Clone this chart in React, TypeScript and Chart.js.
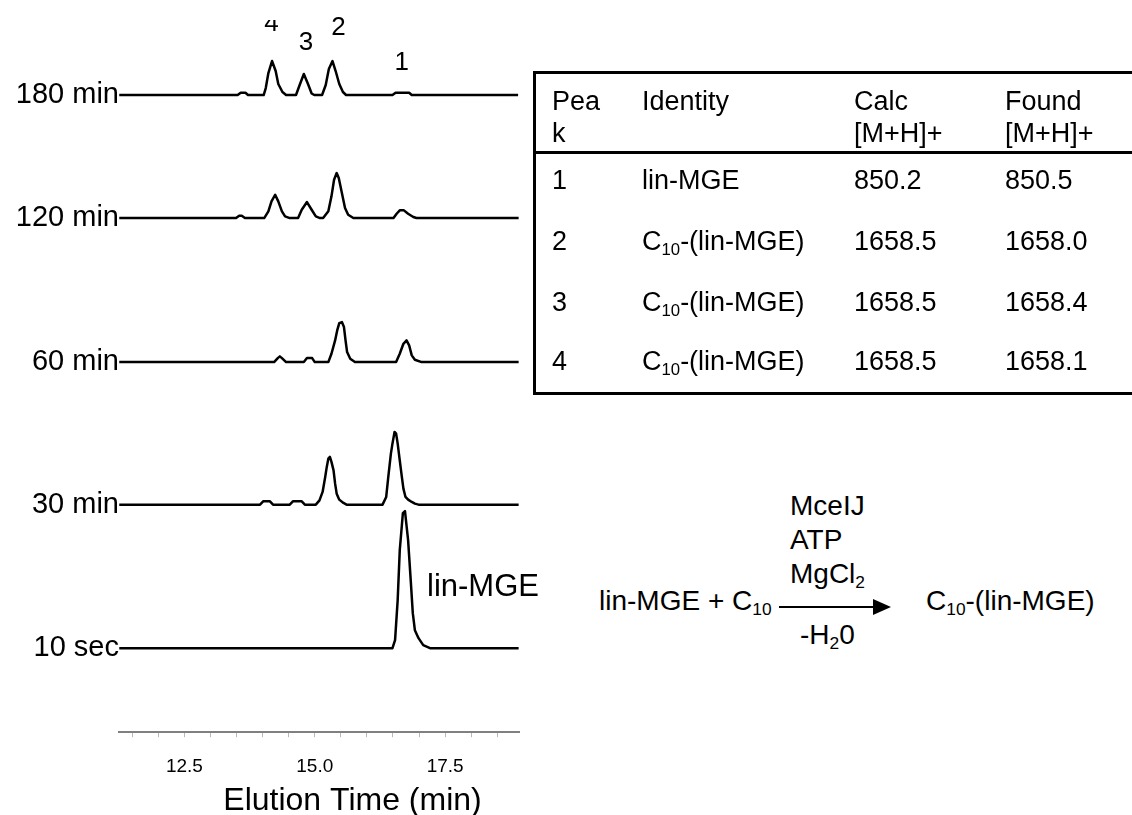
import React, { useEffect, useRef } from "react";
import { Chart, registerables } from "chart.js";

Chart.register(...registerables);

const FONT = '"Liberation Sans", Arial, Helvetica, sans-serif';

// ---------- chromatogram data (time in min, intensity above each trace's baseline) ----------
const traceLabels = ["10 sec", "30 min", "60 min", "120 min", "180 min"];
const traceOffsets = [84, 227.5, 370, 514, 637];

const trace10sec: number[][] = [
  [11.25, 0], [16.49, 0], [16.54, 8], [16.59, 48], [16.63, 98], [16.69, 135], [16.73, 137],
  [16.79, 108], [16.84, 68], [16.88, 35], [16.92, 18], [16.99, 10], [17.08, 3], [17.21, 0], [18.91, 0],
];
const trace30min: number[][] = [
  [11.25, 0], [13.95, 0], [14.01, 3.3], [14.14, 3.3], [14.2, 0], [14.52, 0], [14.58, 3.3], [14.75, 3.3],
  [14.81, 0], [15.02, 0], [15.09, 4.3], [15.15, 12.7], [15.2, 27.7], [15.23, 37.7], [15.26, 46],
  [15.29, 47.7], [15.32, 42.7], [15.36, 34.3], [15.39, 21], [15.42, 11], [15.47, 5], [15.55, 1.7],
  [15.61, 0], [16.3, 0], [16.37, 7.7], [16.41, 27.7], [16.46, 51], [16.49, 61], [16.53, 72.7],
  [16.56, 71], [16.59, 61], [16.63, 44.3], [16.67, 27.7], [16.7, 16], [16.74, 7.7], [16.79, 5],
  [16.86, 2.7], [16.92, 1], [16.99, 0], [18.91, 0],
];
const trace60min: number[][] = [
  [11.25, 0], [14.22, 0], [14.29, 4], [14.33, 5.7], [14.37, 4], [14.45, 0], [14.79, 0], [14.85, 4],
  [14.95, 4], [15.0, 0], [15.26, 0], [15.32, 8.3], [15.39, 21.7], [15.43, 31.7], [15.47, 39],
  [15.52, 40], [15.56, 35], [15.59, 21.7], [15.62, 10], [15.68, 3.3], [15.77, 0], [16.56, 0],
  [16.63, 8.3], [16.7, 18.3], [16.76, 21.7], [16.81, 16.7], [16.86, 6.7], [16.92, 2.3], [17.05, 0],
  [18.91, 0],
];
const trace120min: number[][] = [
  [11.25, 0], [13.49, 0], [13.55, 2.3], [13.6, 2.3], [13.66, 0], [14.03, 0], [14.11, 6.7],
  [14.17, 16.7], [14.24, 23.3], [14.3, 16.7], [14.37, 6.7], [14.43, 1.7], [14.52, 0], [14.68, 0],
  [14.75, 8.3], [14.85, 16], [14.94, 8.3], [15.02, 1.7], [15.1, 0], [15.16, 0], [15.26, 6.7],
  [15.32, 21.7], [15.37, 38.3], [15.42, 45], [15.46, 40], [15.52, 25], [15.58, 10], [15.64, 3.3],
  [15.74, 0], [16.51, 0], [16.57, 4.3], [16.63, 7.7], [16.71, 7.7], [16.79, 4.3], [16.89, 1],
  [16.95, 0], [18.91, 0],
];
const trace180min: number[][] = [
  [11.25, 0], [13.52, 0], [13.58, 2.3], [13.67, 2.3], [13.72, 0], [14.02, 0], [14.06, 7], [14.11, 22],
  [14.18, 34], [14.25, 24], [14.3, 11], [14.38, 3], [14.45, 0], [14.64, 0], [14.71, 10], [14.79, 21],
  [14.87, 11], [14.94, 1.5], [14.99, 0], [15.14, 0], [15.21, 10], [15.27, 26], [15.34, 34], [15.4, 24],
  [15.47, 11], [15.54, 3], [15.6, 0], [16.49, 0], [16.55, 2.3], [16.81, 2.3], [16.86, 0], [18.9, 0],
];
const traces = [trace10sec, trace30min, trace60min, trace120min, trace180min];

const xTickLabels = ["12.5", "15.0", "17.5"];
const xAxisTitle = "Elution Time (min)";
const peakLabels = ["4", "3", "2", "1"];
const peakLabelTimes = [14.17, 14.83, 15.455, 16.67];
const mainPeakLabel = "lin-MGE";

// ---------- table data ----------
const tableHead1 = ["Pea", "Identity", "Calc", "Found"];
const tableHead2 = ["k", "", "[M+H]+", "[M+H]+"];
const peakNumbers = ["1", "2", "3", "4"];
const identities = ["lin-MGE", "C_{10}-(lin-MGE)", "C_{10}-(lin-MGE)", "C_{10}-(lin-MGE)"];
const calcMasses = ["850.2", "1658.5", "1658.5", "1658.5"];
const foundMasses = ["850.5", "1658.0", "1658.4", "1658.1"];

// ---------- reaction scheme ----------
const reactants = "lin-MGE + C_{10}";
const conditions = ["MceIJ", "ATP", "MgCl_{2}"];
const byproduct = "-H_{2}0";
const product = "C_{10}-(lin-MGE)";

// ---------- layout (positions / styles, not data) ----------
const peakLabelY = [23.5, 42.5, 27.5, 63];
const tableColX = [552, 642, 854, 1005];
const tableHeadY = [101, 133];
const tableRowY = [180, 241, 302, 361];

function chem(s: string) {
  const parts = s.split(/_\{([^}]*)\}/);
  return parts.map((p, i) =>
    i % 2 === 1 ? (
      <span key={i} style={{ fontSize: "0.62em", position: "relative", top: "0.28em" }}>
        {p}
      </span>
    ) : (
      <React.Fragment key={i}>{p}</React.Fragment>
    )
  );
}

const Txt = ({ x, y, size, children }: { x: number; y: number; size: number; children: any }) => (
  <div
    style={{
      position: "absolute",
      left: x,
      top: y,
      transform: "translateY(-50%)",
      fontSize: size,
      lineHeight: 1,
      whiteSpace: "nowrap",
      color: "#000",
    }}
  >
    {children}
  </div>
);

const overlayPlugin = {
  id: "overlayText",
  afterDraw(chart: any) {
    const { ctx, chartArea, scales } = chart;
    const xs = scales.x;
    const ys = scales.y;
    ctx.save();
    ctx.fillStyle = "#000";
    // trace labels
    ctx.font = `29px ${FONT}`;
    ctx.textAlign = "right";
    ctx.textBaseline = "middle";
    traceLabels.forEach((lab, i) => {
      ctx.fillText(lab, chartArea.left, ys.getPixelForValue(traceOffsets[i]));
    });
    // peak numbers above the 180 min trace
    ctx.font = `26px ${FONT}`;
    ctx.textAlign = "center";
    peakLabels.forEach((lab, i) => {
      const px = xs.getPixelForValue(peakLabelTimes[i]);
      ctx.save();
      if (lab === "4") {
        ctx.beginPath();
        ctx.rect(0, 20, chart.width, chart.height);
        ctx.clip();
      }
      ctx.fillText(lab, px, peakLabelY[i]);
      ctx.restore();
    });
    // lin-MGE label
    ctx.font = `31px ${FONT}`;
    ctx.textAlign = "left";
    ctx.fillText(mainPeakLabel, 427, 587);
    // axis title
    ctx.font = `32px ${FONT}`;
    ctx.textAlign = "center";
    ctx.textBaseline = "alphabetic";
    ctx.fillText(xAxisTitle, 352.5, 810);
    ctx.restore();
  },
};

export default function App() {
  const canvasRef = useRef<HTMLCanvasElement | null>(null);

  useEffect(() => {
    const canvas = canvasRef.current;
    if (!canvas) return;
    const datasets = traces.map((tr, i) => ({
      label: traceLabels[i],
      data: tr.map(([t, v]) => ({ x: t, y: v + traceOffsets[i] })),
      borderColor: "#000",
      backgroundColor: "#000",
      borderWidth: 2.5,
      pointRadius: 0,
      tension: 0,
      fill: false,
      borderJoinStyle: "round" as const,
    }));
    const chart = new Chart(canvas, {
      type: "line",
      data: { datasets },
      options: {
        animation: false,
        responsive: true,
        maintainAspectRatio: false,
        layout: { padding: { left: 119, right: 26, top: 15, bottom: 19 } },
        plugins: {
          legend: { display: false },
          tooltip: { enabled: false },
          title: { display: false },
        },
        elements: { point: { radius: 0 } },
        scales: {
          x: {
            type: "linear",
            min: 11.245,
            max: 18.917,
            grid: {
              display: true,
              drawOnChartArea: false,
              drawTicks: true,
              tickLength: 5,
              color: "#b8b8b8",
              lineWidth: 1,
            },
            border: { display: true, color: "#808080", width: 2 },
            ticks: {
              stepSize: 0.5,
              autoSkip: false,
              maxRotation: 0,
              minRotation: 0,
              includeBounds: false,
              padding: 18,
              color: "#000",
              font: { family: FONT, size: 19 },
              callback: (v: any) => {
                const s = Number(v).toFixed(1);
                return xTickLabels.includes(s) ? s : "";
              },
            },
          },
          y: { display: false, min: 0, max: 717 },
        },
      },
      plugins: [overlayPlugin],
    } as any);
    return () => chart.destroy();
  }, []);

  return (
    <div
      style={{
        position: "absolute",
        left: 0,
        top: 0,
        width: 1132,
        height: 815,
        overflow: "hidden",
        background: "#fff",
        fontFamily: FONT,
        color: "#000",
      }}
    >
      <div style={{ position: "absolute", left: 0, top: 0, width: 545, height: 815 }}>
        <canvas ref={canvasRef} />
      </div>

      {/* table */}
      <div
        style={{
          position: "absolute",
          left: 533,
          top: 71,
          width: 660,
          height: 324,
          boxSizing: "border-box",
          border: "3px solid #000",
        }}
      />
      <div style={{ position: "absolute", left: 533, top: 151, width: 660, height: 3, background: "#000" }} />
      {tableHead1.map((h, i) => (
        <Txt key={"h1" + i} x={tableColX[i]} y={tableHeadY[0]} size={27}>
          {h}
        </Txt>
      ))}
      {tableHead2.map((h, i) => (
        <Txt key={"h2" + i} x={tableColX[i]} y={tableHeadY[1]} size={27}>
          {h}
        </Txt>
      ))}
      {peakNumbers.map((p, r) => (
        <React.Fragment key={"r" + r}>
          <Txt x={tableColX[0]} y={tableRowY[r]} size={27}>{p}</Txt>
          <Txt x={tableColX[1]} y={tableRowY[r]} size={27}>{chem(identities[r])}</Txt>
          <Txt x={tableColX[2]} y={tableRowY[r]} size={27}>{calcMasses[r]}</Txt>
          <Txt x={tableColX[3]} y={tableRowY[r]} size={27}>{foundMasses[r]}</Txt>
        </React.Fragment>
      ))}

      {/* reaction scheme */}
      <Txt x={599} y={601} size={28}>{chem(reactants)}</Txt>
      {conditions.map((c, i) => (
        <Txt key={"c" + i} x={790} y={506 + i * 34} size={28}>
          {chem(c)}
        </Txt>
      ))}
      <svg
        style={{ position: "absolute", left: 779, top: 597 }}
        width={115}
        height={20}
        viewBox="0 0 115 20"
      >
        <line x1={0} y1={10} x2={96} y2={10} stroke="#000" strokeWidth={2} />
        <polygon points="94,2 112,10 94,18" fill="#000" />
      </svg>
      <Txt x={800} y={635} size={28}>{chem(byproduct)}</Txt>
      <Txt x={926} y={601} size={28}>{chem(product)}</Txt>
    </div>
  );
}
